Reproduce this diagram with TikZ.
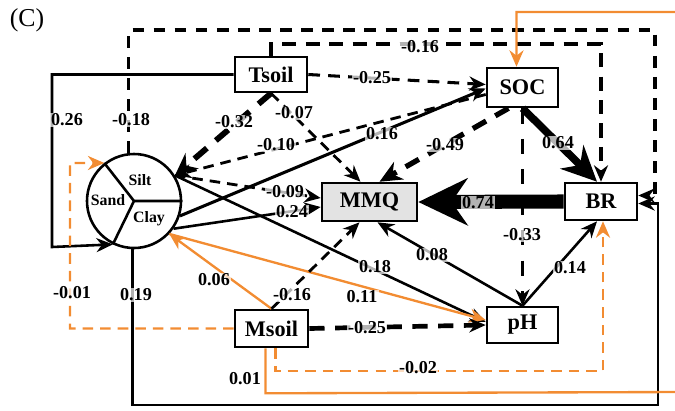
\documentclass[tikz,border=0pt]{standalone}
\usepackage{fontspec}
\setmainfont{Liberation Serif}
\usepackage{tikz}
\usetikzlibrary{
    arrows.meta,
    calc
}

\definecolor{semorange}{RGB}{242,140,50}

\tikzset{
    var/.style={draw, line width=2.2pt, fill=white, inner sep=0pt,
        font=\bfseries\fontsize{19}{19}\selectfont},
    coef/.style={font=\bfseries\fontsize{15.5}{15.5}\selectfont, fill=white,
        fill opacity=0.7, text opacity=1, inner sep=1pt},
    frac/.style={font=\bfseries\fontsize{13.5}{13.5}\selectfont, inner sep=0pt},
    solidline/.style={line width=2.2pt},
    dashline/.style={line width=2.4pt, dash pattern=on 9pt off 6pt},
    heavydash/.style={line width=4.5pt, dash pattern=on 13pt off 9pt},
    orangeline/.style={semorange, line width=2pt},
    orangedash/.style={semorange, line width=2pt, dash pattern=on 9pt off 6pt},
    arr/.style={-{Stealth[length=14pt,width=12pt]}},
    bigarr/.style={-{Stealth[length=19pt,width=17pt]}}
}

\begin{document}
\begin{tikzpicture}[x=0.03cm,y=-0.03cm]

\useasboundingbox (0,0) rectangle (675,410);
\clip (0,0) rectangle (675,410);

% Panel letter
\node[font=\fontsize{22}{22}\selectfont, inner sep=0pt] (panel) at (27,20) {(C)};

% Variables
\node[var, minimum width=2.16cm, minimum height=1.05cm] (Tsoil) at (271,74.5) {Tsoil};
\node[var, minimum width=2.13cm, minimum height=1.17cm] (SOC) at (522.5,87.5) {SOC};
\node[var, fill=gray!22, minimum width=2.85cm, minimum height=1.14cm] (MMQ) at (369.5,202) {MMQ};
\node[var, minimum width=2.16cm, minimum height=1.11cm] (BR) at (601,201.5) {BR};
\node[var, minimum width=2.19cm, minimum height=1.11cm] (Msoil) at (271.5,328.5) {Msoil};
\node[var, minimum width=2.13cm, minimum height=1.08cm] (pH) at (522.5,325) {pH};

% Soil texture
\node[circle, draw, line width=2.2pt, minimum size=2.82cm, inner sep=0pt] (soil) at (134,201) {};
\draw[line width=2.2pt] (soil.center) -- (soil.128)
    (soil.center) -- (soil.0)
    (soil.center) -- (soil.244);
\node[frac] (silt) at (140,180) {Silt};
\node[frac] (sand) at (108,200) {Sand};
\node[frac] (clay) at (149,219) {Clay};

% Long frame paths
\draw[line width=2.6pt, dash pattern=on 10pt off 8pt, arr] (soil.96) |- (655,30) |- ($(BR.east)+(0,-6)$);
\draw[solidline, arr] (soil.268) |- (658,405) |- ($(BR.east)+(0,2)$);
\draw[line width=3.4pt, dash pattern=on 12pt off 8pt, arr] (Tsoil.north) -- ++(0,-12) -| (BR.north);
\draw[solidline, arr] (Tsoil.west) -| (52,247) -- (soil.244);

% Tsoil
\draw[line width=5pt, dash pattern=on 14pt off 10pt, bigarr] (Tsoil.south) -- (soil.32);
\draw[dashline, arr] (Tsoil.south) -- ($(MMQ.north)+(-9,0)$);
\draw[line width=2.6pt, dash pattern=on 10pt off 7pt, arr] (Tsoil.east) -- ($(SOC.west)+(0,-3)$);

% SOC
\draw[dashline, arr] ($(SOC.west)+(0,7)$) -- (soil.32);
\draw[line width=2.6pt, arr] (soil.-18) -- ($(SOC.west)+(0,1)$);
\draw[heavydash, bigarr] ($(SOC.south)+(-14,0)$) -- ($(MMQ.north)+(10,0)$);
\draw[line width=6.5pt, -{Stealth[length=30pt,width=28pt]}] (SOC.south) -- ($(BR.north)+(-4,0)$);
\draw[line width=2.4pt, dash pattern=on 13pt off 13pt, arr] (SOC.south) -- (pH.north);

% BR to MMQ
\draw[line width=12pt, -{Stealth[length=42pt,width=40pt]}] (BR.west) -- (MMQ.east);

% Soil texture out
\draw[dashline, arr] (soil.32) -- ($(MMQ.west)+(0,-4)$);
\draw[solidline, arr] (soil.-35) -- ($(MMQ.west)+(0,5)$);
\draw[solidline, arr] (soil.32) -- ($(pH.west)+(0,-3)$);
\draw[orangeline, arr] (soil.-43) -- ($(pH.west)+(0,-5)$);

% Msoil
\draw[orangeline, arr] (Msoil.north) -- (soil.-43);
\draw[dashline, arr] (Msoil.north) -- ($(MMQ.south)+(-10,0)$);
\draw[heavydash, line width=4pt, arr] (Msoil.east) -- (pH.west);
\draw[orangedash, arr] ($(Msoil.south)+(4,0)$) -- ++(0,23) -| ($(BR.south)+(2,0)$);
\draw[orangeline, arr] ($(Msoil.south)+(-6,0)$) -- ++(0,45) -- (680,392) -- (680,12) -| ($(SOC.north)+(-6,0)$);
\draw[orangedash, arr] (Msoil.west) -| (70,163) -- (soil.128);

% pH
\draw[solidline, arr] (pH.north) -- ($(MMQ.south)+(8,0)$);
\draw[solidline, arr] (pH.north) -- ($(BR.south)+(-4,0)$);

% Coefficients
\node[coef] (c1) at (67,120) {0.26};
\node[coef] (c2) at (131,120) {-0.18};
\node[coef] (c3) at (234,122) {-0.32};
\node[coef] (c4) at (294,113) {-0.07};
\node[coef] (c5) at (372,78) {-0.25};
\node[coef] (c6) at (420,47) {-0.16};
\node[coef] (c7) at (276,145) {-0.10};
\node[coef] (c8) at (382,134) {0.16};
\node[coef] (c9) at (445,145) {-0.49};
\node[coef] (c10) at (558,143) {0.64};
\node[coef] (c11) at (285,192) {-0.09};
\node[coef] (c12) at (292,212) {0.24};
\node[coef] (c13) at (478,203) {0.74};
\node[coef] (c14) at (522,235) {-0.33};
\node[coef] (c15) at (432,255) {0.08};
\node[coef] (c16) at (375,267) {0.18};
\node[coef] (c17) at (570,268) {0.14};
\node[coef] (c18) at (362,297) {0.11};
\node[coef] (c19) at (214,280) {0.06};
\node[coef] (c20) at (292,295) {-0.16};
\node[coef] (c21) at (72,293) {-0.01};
\node[coef] (c22) at (136,295) {0.19};
\node[coef] (c23) at (367,328) {-0.25};
\node[coef] (c24) at (418,368) {-0.02};
\node[coef] (c25) at (245,379) {0.01};

\end{tikzpicture}
\end{document}
